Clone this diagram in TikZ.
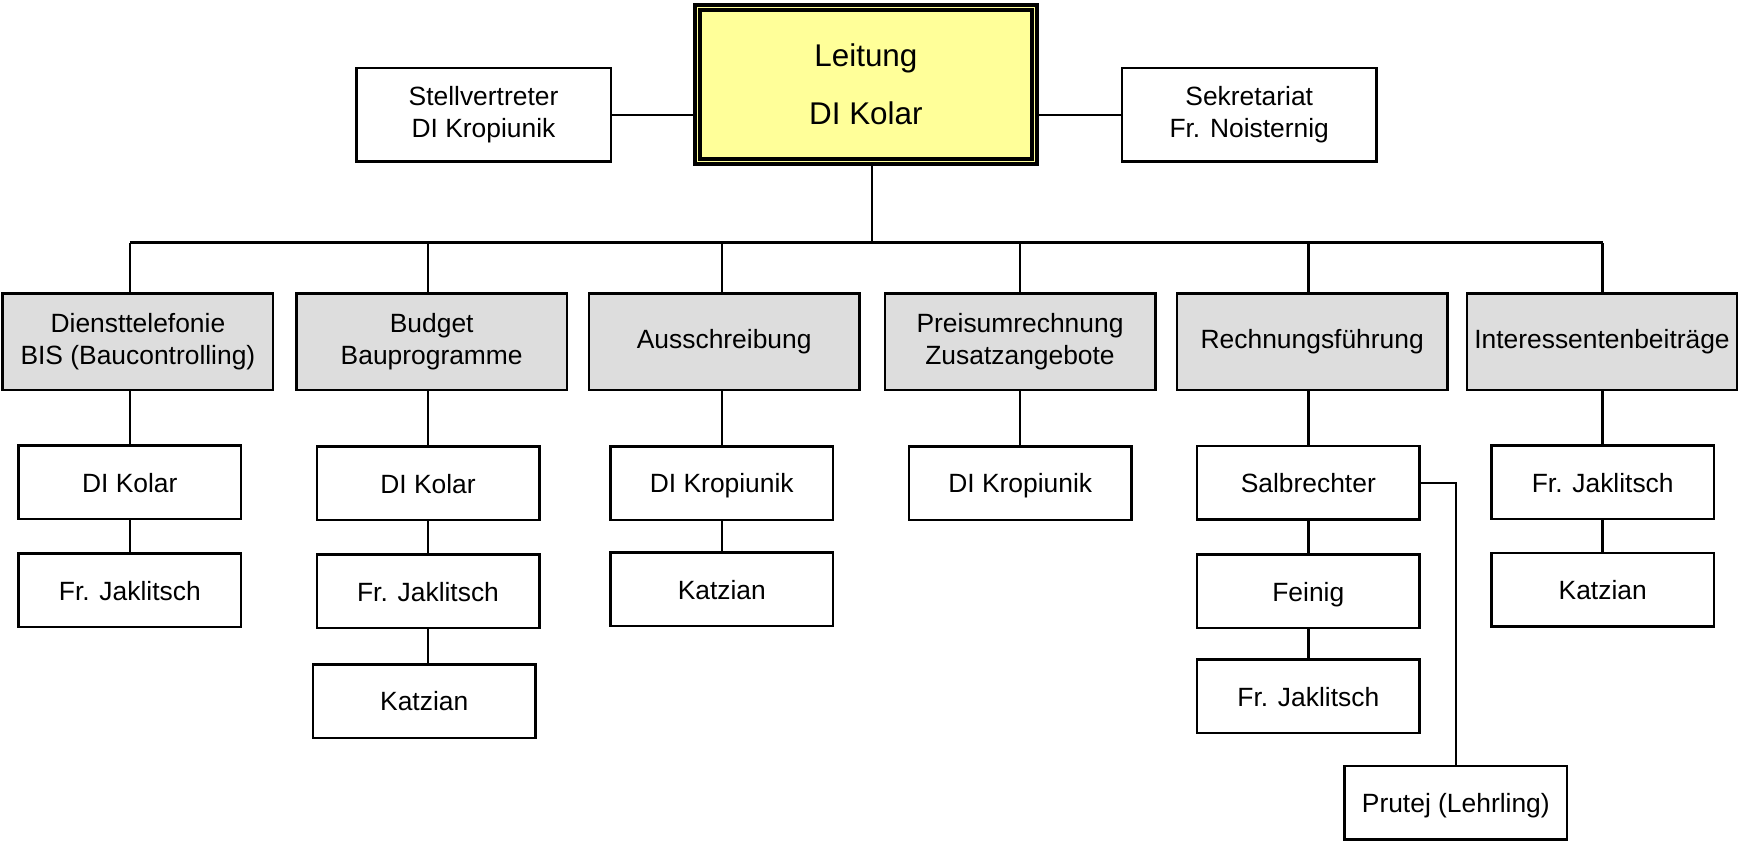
\documentclass[tikz,border=0pt]{standalone}
\usepackage{fontspec}
\setmainfont{Liberation Sans}
\usetikzlibrary{backgrounds}
\definecolor{leitgelb}{RGB}{255,255,153}
\definecolor{bereichgrau}{RGB}{221,221,221}

\begin{document}
\begin{tikzpicture}[x=0.5pt, y=-0.5pt,
    every node/.style={rectangle, draw, line width=1.25pt, inner sep=0pt, align=center, font=\fontsize{13.2}{15.8}\selectfont},
    leitung/.style={fill=leitgelb, line width=1.8pt, double=leitgelb, double distance=0.7pt, minimum width=168.7pt, minimum height=77pt, font=\fontsize{15.7}{29}\selectfont},
    stab/.style={minimum width=127.25pt, minimum height=46.9pt},
    bereich/.style={fill=bereichgrau, minimum width=135.25pt, minimum height=48.25pt},
    person/.style={minimum width=111.25pt, minimum height=36.75pt, text height=9.8pt, text depth=0pt},
    linie/.style={line width=1.25pt}]
    \useasboundingbox (0,0) rectangle (1738,842);
    \node[leitung] (leitung) at (865.9,84.2) {Leitung\\DI Kolar};
    \node[stab] (stellv) at (483.5,114.8) {Stellvertreter\\DI Kropiunik};
    \node[stab] (sekret) at (1249.2,114.8) {Sekretariat\\Fr. Noisternig};
    \coordinate (bus) at (872,242.7);

    \node[bereich] (telefonie) at (137.9,341.5) {Diensttelefonie\\BIS (Baucontrolling)};
    \node[bereich] (budget) at (431.7,341.5) {Budget\\Bauprogramme};
    \node[bereich] (ausschr) at (724.2,341.5) {Ausschreibung};
    \node[bereich] (preis) at (1020,341.5) {Preisumrechnung\\Zusatzangebote};
    \node[bereich] (rechnung) at (1312.2,341.5) {Rechnungsführung};
    \node[bereich] (beitraege) at (1602,341.5) {Interessentenbeiträge};

    \node[person] (tel1) at (129.8,482.2) {DI Kolar};
    \node[person] (tel2) at (129.8,590.2) {Fr. Jaklitsch};
    \node[person] (bud1) at (428,483.2) {DI Kolar};
    \node[person] (bud2) at (428,591.2) {Fr. Jaklitsch};
    \node[person] (bud3) at (424.2,701) {Katzian};
    \node[person] (aus1) at (721.8,483) {DI Kropiunik};
    \node[person] (aus2) at (721.8,589.2) {Katzian};
    \node[person] (pre1) at (1020.2,483) {DI Kropiunik};
    \node[person] (rech1) at (1308.3,482.8) {Salbrechter};
    \node[person] (rech2) at (1308.3,591.3) {Feinig};
    \node[person] (rech3) at (1308.3,696.2) {Fr. Jaklitsch};
    \node[person] (lehrling) at (1455.8,802.8) {Prutej (Lehrling)};
    \node[person] (bei1) at (1602.7,482.3) {Fr. Jaklitsch};
    \node[person] (bei2) at (1602.7,589.5) {Katzian};

    \begin{pgfonlayer}{background}
        \draw[linie] (stellv) -- (sekret);
        \draw[linie] (leitung -| bus) -- (bus);
        \draw[linie] (tel1.north |- bus) -- (bei1.north |- bus);
        \foreach \p in {tel1, bud1, aus1, pre1, rech1, bei1}
            \draw[linie] (\p.north) -- (\p.north |- bus);
        \foreach \a/\b in {tel1/tel2, bud1/bud2, aus1/aus2, rech1/rech2, rech2/rech3, bei1/bei2}
            \draw[linie] (\a) -- (\b);
        \draw[linie] (bud2.south) -- (bud2.south |- bud3.north);
        \draw[linie] (rech1.east) -- (rech1.east -| lehrling.north) -- (lehrling.north);
    \end{pgfonlayer}
\end{tikzpicture}
\end{document}
